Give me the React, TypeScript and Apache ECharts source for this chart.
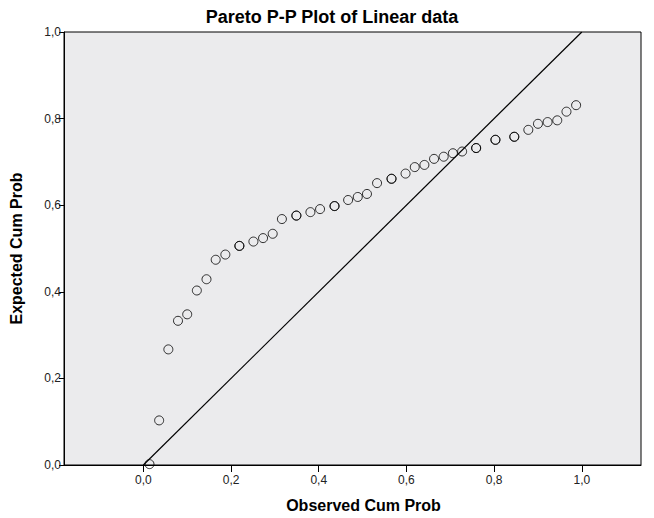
import React, { useEffect, useRef } from "react";
import * as echarts from "echarts";

const observed = [0.014, 0.036, 0.057, 0.079, 0.1, 0.122, 0.144, 0.165, 0.187, 0.219, 0.251, 0.273, 0.295, 0.316, 0.349, 0.381, 0.403, 0.436, 0.467, 0.489, 0.51, 0.533, 0.566, 0.598, 0.619, 0.641, 0.663, 0.685, 0.706, 0.727, 0.759, 0.803, 0.846, 0.878, 0.9, 0.922, 0.944, 0.965, 0.987];
const expected = [0.002, 0.103, 0.267, 0.333, 0.348, 0.403, 0.429, 0.474, 0.486, 0.506, 0.516, 0.524, 0.534, 0.568, 0.576, 0.584, 0.591, 0.598, 0.612, 0.619, 0.626, 0.651, 0.661, 0.673, 0.688, 0.693, 0.707, 0.712, 0.72, 0.724, 0.732, 0.751, 0.758, 0.774, 0.788, 0.792, 0.796, 0.816, 0.831];
// indices of points that are tied (drawn twice, appear bold)
const tied = [9, 14, 17, 22, 30, 31, 32];
const tickValues = [0, 0.2, 0.4, 0.6, 0.8, 1.0];
const diagonal = [[0, 0], [1, 1]];

const fmt = (v: number) => v.toFixed(1).replace(".", ",");

export default function App() {
  const ref = useRef<HTMLDivElement>(null);
  useEffect(() => {
    if (!ref.current) return;
    const chart = echarts.init(ref.current, null, { renderer: "svg" });
    const pts = observed.map((x, i) => [x, expected[i]]);
    const dup = tied.map((i) => [observed[i], expected[i]]);
    const font = "'Liberation Sans', Arial, sans-serif";
    chart.setOption({
      animation: false,
      backgroundColor: "#ffffff",
      title: {
        text: "Pareto P-P Plot of Linear data",
        left: 332,
        textAlign: "center",
        top: 8,
        padding: 0,
        textStyle: { fontFamily: font, fontSize: 18, fontWeight: "bold", color: "#000" },
      },
      grid: {
        left: 60,
        right: 13,
        top: 32,
        bottom: 48,
        show: true,
        backgroundColor: "#EBEBED",
        borderColor: "#000",
        borderWidth: 1,
      },
      xAxis: {
        type: "value",
        min: -0.181,
        max: 1.135,
        name: "Observed Cum Prob",
        nameLocation: "middle",
        nameGap: 32,
        nameTextStyle: { fontFamily: font, fontSize: 16, fontWeight: "bold", color: "#000", padding: [0, 0, 0, 22] },
        axisLine: { show: true, onZero: false, lineStyle: { color: "#000", width: 1 } },
        axisTick: { show: true, length: 7, customValues: tickValues, lineStyle: { color: "#000" } },
        axisLabel: {
          customValues: tickValues,
          formatter: (v: number) => fmt(v),
          fontFamily: font,
          fontSize: 12,
          color: "#222",
          margin: 9,
        },
        splitLine: { show: false },
      },
      yAxis: {
        type: "value",
        min: 0,
        max: 1,
        interval: 0.2,
        name: "Expected Cum Prob",
        nameLocation: "middle",
        nameGap: 40,
        nameTextStyle: { fontFamily: font, fontSize: 16, fontWeight: "bold", color: "#000" },
        axisLine: { show: true, onZero: false, lineStyle: { color: "#000", width: 1 } },
        axisTick: { show: true, length: 5, lineStyle: { color: "#000" } },
        axisLabel: {
          formatter: (v: number) => fmt(v),
          fontFamily: font,
          fontSize: 12,
          color: "#222",
          margin: 3,
        },
        splitLine: { show: false },
      },
      series: [
        {
          type: "line",
          data: diagonal,
          symbol: "none",
          lineStyle: { color: "#000", width: 1.2 },
          silent: true,
        },
        {
          type: "scatter",
          data: pts,
          symbol: "circle",
          symbolSize: 9,
          itemStyle: { color: "transparent", borderColor: "#000", borderWidth: 1 },
        },
        {
          type: "scatter",
          data: dup,
          symbol: "circle",
          symbolSize: 9,
          itemStyle: { color: "transparent", borderColor: "#000", borderWidth: 1 },
        },
      ],
    });
    return () => chart.dispose();
  }, []);
  return <div ref={ref} style={{ width: 654, height: 518, position: "absolute", left: 0, top: 0 }} />;
}
